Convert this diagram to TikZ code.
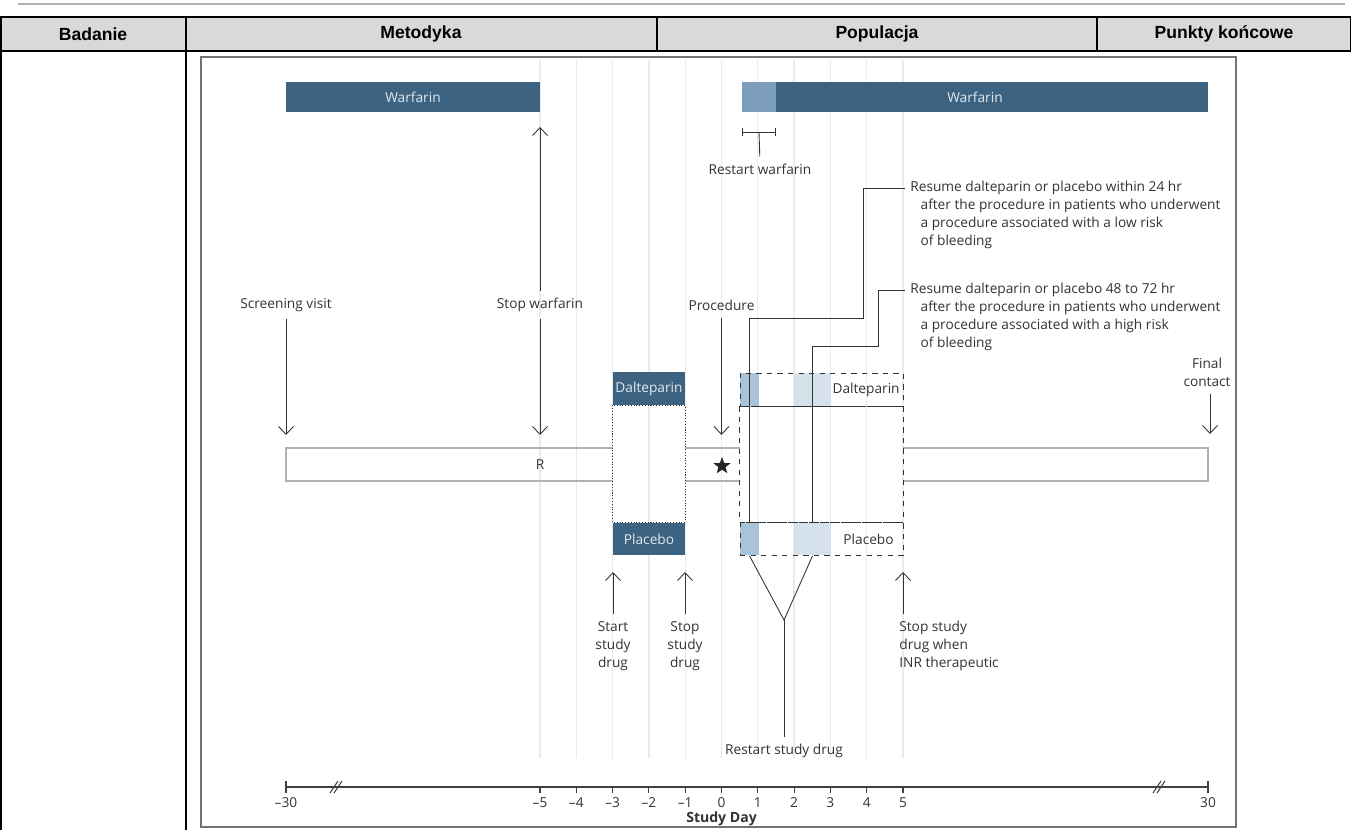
\documentclass[tikz,border=0pt]{standalone}
\usepackage{fontspec}
\setmainfont{Open Sans}
\newfontfamily\headfont{Liberation Sans}
\usetikzlibrary{arrows.meta,shapes.geometric,positioning}
\definecolor{slate}{HTML}{3D6383}
\definecolor{slatelight}{HTML}{7D9EBA}
\definecolor{paleblue}{HTML}{A9C4D9}
\definecolor{paleblue2}{HTML}{D6E2EB}
\definecolor{headgray}{HTML}{D9D9D9}
\definecolor{rulegray}{HTML}{B2B0A8}
\tikzset{
  lbl/.style={font=\fontsize{7.8}{10.2}\selectfont, text=black!80, inner sep=0pt, align=center},
  barlbl/.style={font=\fontsize{7.8}{10.2}\selectfont, text=white!85!slate},
  darkbox/.style={fill=slate, barlbl, inner sep=0pt},
  dashbox/.style={draw=black!80, dashed, inner sep=0pt, minimum width=3.26cm, minimum height=0.66cm},
  pointer/.style={-{Straight Barb[length=4.5pt,width=8.5pt]}, black!80, line width=0.5pt, shorten <=4pt},
  thinline/.style={black!80, line width=0.5pt},
  guide/.style={black!8, line width=0.7pt},
  barline/.style={black!30, line width=0.6pt},
  headtext/.style={font=\headfont\bfseries\fontsize{10}{12}\selectfont}
}
\begin{document}
\begin{tikzpicture}[x=0.02cm, y=-0.02cm]
\useasboundingbox (0,0) rectangle (1351,830);
% table head
\draw[rulegray, line width=1.2pt] (18,4) -- (1345,4);
\draw[fill=headgray, line width=1.1pt] (1,17) rectangle (1351,51);
\foreach \cx in {186,657,1097} \draw[line width=1.1pt] (\cx,17) -- (\cx,51);
\draw[line width=1.1pt] (1,51) -- (1,830) (186,51) -- (186,830);
\node[headtext] (hbad) at (93,34) {Badanie};
\node[headtext] (hmet) at (421,34) {Metodyka};
\node[headtext] (hpop) at (877,34) {Populacja};
\node[headtext] (hpkt) at (1224,34) {Punkty końcowe};
% frame of the figure
\draw[black!55, line width=0.7pt] (201,57) rectangle (1236,827);
\foreach \d in {-5,...,5} \draw[guide] (721.5+36.3*\d,60) -- (721.5+36.3*\d,758);
% warfarin
\node[darkbox, minimum width=5.08cm, minimum height=0.6cm] (warfa) at (413,97) {Warfarin};
\node[darkbox, minimum width=9.32cm, minimum height=0.6cm] (warfb) at (975,97) {Warfarin};
\fill[slatelight] (warfb.north west) rectangle ([xshift=0.68cm]warfb.south west);
% R bar
\draw[barline] (613,448) -- (286,448) -- (286,481) -- (613,481);
\draw[barline] (685,448) -- (740,448) (685,481) -- (740,481);
\draw[barline] (903,448) -- (1208,448) -- (1208,481) -- (903,481);
\node[lbl] (rand) at (540,465) {R};
\node[star, star points=5, star point ratio=2.4, fill=black!85, minimum size=0.36cm, inner sep=0pt] (proc) at (722,466) {};
% study drug before the procedure
\node[darkbox, minimum width=1.44cm, minimum height=0.66cm] (ldalt) at (649,388.5) {Dalteparin};
\node[darkbox, minimum width=1.44cm, minimum height=0.66cm] (lplac) at (649,539) {Placebo};
\draw[black!80, densely dotted, line width=0.6pt] (ldalt.south west) rectangle (lplac.north east);
% study drug after the procedure
\node[fill=paleblue, minimum width=0.38cm, minimum height=0.66cm, inner sep=0pt] (lowd) at (749.5,389.5) {};
\node[fill=paleblue2, minimum width=0.74cm, minimum height=0.66cm, inner sep=0pt] (highd) at (812.5,389.5) {};
\node[fill=paleblue, minimum width=0.38cm, minimum height=0.66cm, inner sep=0pt] (lowp) at (749.5,539) {};
\node[fill=paleblue2, minimum width=0.74cm, minimum height=0.66cm, inner sep=0pt] (highp) at (812.5,539) {};
\node[dashbox] (rdalt) at (821.5,389.5) {};
\node[dashbox] (rplac) at (821.5,539) {};
\draw[black!80, dashed, line width=0.5pt] (rdalt.south west) rectangle (rplac.north east);
\node[lbl, anchor=east] (rdaltl) at (900,389.5) {Dalteparin};
\node[lbl, anchor=east] (rplacl) at (894,539) {Placebo};
% restart warfarin
\draw[thinline, |-|] (742,132) -- (776,132);
\node[lbl] (restw) at (760,169) {Restart warfarin};
\draw[thinline, shorten >=4pt] (759,132) -- (restw.north);
% resume texts
\node[lbl, align=left, anchor=north west] (lowtxt) at (910,181) {Resume dalteparin or placebo within 24 hr\\
  \hspace*{0.75em}after the procedure in patients who underwent\\
  \hspace*{0.75em}a procedure associated with a low risk\\
  \hspace*{0.75em}of bleeding};
\node[lbl, align=left, anchor=north west] (hightxt) at (910,283) {Resume dalteparin or placebo 48 to 72 hr\\
  \hspace*{0.75em}after the procedure in patients who underwent\\
  \hspace*{0.75em}a procedure associated with a high risk\\
  \hspace*{0.75em}of bleeding};
\coordinate (lowknee) at (863,318);
\coordinate (highknee) at (878,346);
\draw[thinline] (lowd.north) |- (lowknee) |- ([xshift=-3pt,yshift=-4.4pt]lowtxt.north west);
\draw[thinline] (highd.north) |- (highknee) |- ([xshift=-3pt,yshift=-4.4pt]hightxt.north west);
\draw[thinline] (lowd.north) -- (lowp.north);
\draw[thinline] (highd.north) -- (highp.north);
% restart study drug
\coordinate (yjoin) at (784,620);
\node[lbl] (restsd) at (784,751) {Restart study drug};
\draw[thinline] (lowp.south) -- (yjoin) -- (highp.south);
\draw[thinline, shorten >=4pt] (yjoin) -- (restsd.north);
% visits
\node[lbl] (screen) at (286,305) {Screening visit};
\node[lbl] (stopw) at (540,305) {Stop warfarin};
\node[lbl] (procl) at (721.5,305) {Procedure};
\node[lbl] (final) at (1207,372) {Final\\contact};
\coordinate (screentip) at (286,435);
\coordinate (stopwtop) at (540,127);
\coordinate (stopwtip) at (540,435);
\coordinate (proctip) at (721.5,435);
\coordinate (finaltip) at (1210,434);
\draw[pointer] (screen.south) -- (screentip);
\draw[pointer] (stopw.north) -- (stopwtop);
\draw[pointer] (stopw.south) -- (stopwtip);
\draw[pointer] (procl.south) -- (proctip);
\draw[pointer] (final.south -| finaltip) -- (finaltip);
% study drug start and stop
\node[lbl] (startsd) at (613,646) {Start\\study\\drug};
\node[lbl] (stopsd) at (685,646) {Stop\\study\\drug};
\node[lbl, align=left, anchor=north west] (stopinr) at (899,621) {Stop study\\drug when\\INR therapeutic};
\coordinate (starttip) at (613,572);
\coordinate (stoptip) at (685,572);
\coordinate (inrtip) at (903,572);
\draw[pointer] (startsd.north) -- (starttip);
\draw[pointer] (stopsd.north) -- (stoptip);
\draw[pointer] (stopinr.north -| inrtip) -- (inrtip);
% axis
\draw[black!75, line width=0.6pt] (286,787) -- (1208,787);
\foreach \d/\t in {-5/–5,-4/–4,-3/–3,-2/–2,-1/–1,0/0,1/1,2/2,3/3,4/4,5/5} {
  \draw[black!75, line width=0.6pt] (721.5+36.3*\d,787) -- (721.5+36.3*\d,793);
  \node[lbl] at (721.5+36.3*\d,803) {\t};
}
\draw[black!75, line width=0.6pt] (286,781) -- (286,793) (1208,781) -- (1208,793);
\node[lbl] (tmin) at (286,803) {–30};
\node[lbl] (tmax) at (1208,803) {30};
\foreach \bx in {337,1160} \draw[black!75, line width=0.6pt] (\bx-7,793) -- (\bx+1,781) (\bx-3,793) -- (\bx+5,781);
\node[lbl, font=\bfseries\fontsize{8}{10}\selectfont] (sday) at (721.5,819) {Study Day};
\end{tikzpicture}
\end{document}
